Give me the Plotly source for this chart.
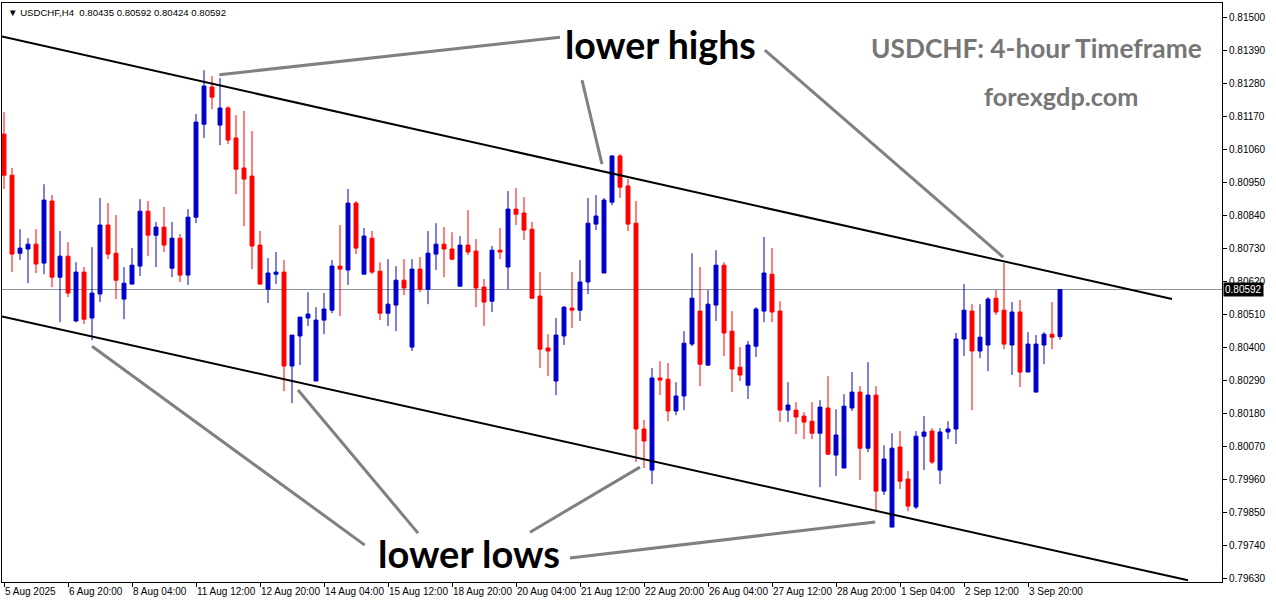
import plotly.graph_objects as go

# ---------------- data (USDCHF H4) ----------------
opens = [0.81110, 0.80973, 0.80713, 0.80727, 0.80743, 0.80680, 0.80887, 0.80633, 0.80703, 0.80487,
         0.80650, 0.80497, 0.80577, 0.80807, 0.80713, 0.80560, 0.80610, 0.80670, 0.80853, 0.80773,
         0.80800, 0.80663, 0.80763, 0.80640, 0.80833, 0.81143, 0.81267, 0.81140, 0.81197, 0.81097,
         0.80997, 0.80970, 0.80740, 0.80593, 0.80643, 0.80650, 0.80337, 0.80437, 0.80497, 0.80287,
         0.80490, 0.80523, 0.80670, 0.80657, 0.80880, 0.80643, 0.80763, 0.80653, 0.80513, 0.80540,
         0.80623, 0.80400, 0.80660, 0.80593, 0.80710, 0.80743, 0.80727, 0.80603, 0.80740, 0.80720,
         0.80600, 0.80553, 0.80723, 0.80667, 0.80860, 0.80847, 0.80793, 0.80570, 0.80397, 0.80287,
         0.80437, 0.80530, 0.80523, 0.80617, 0.80810, 0.80647, 0.80883, 0.81037, 0.80937, 0.80813,
         0.80127, 0.79990, 0.80297, 0.80293, 0.80187, 0.80237, 0.80410, 0.80520, 0.80340, 0.80540,
         0.80673, 0.80453, 0.80333, 0.80273, 0.80403, 0.80520, 0.80643, 0.80520, 0.80190, 0.80190,
         0.80170, 0.80153, 0.80113, 0.80197, 0.80040, 0.79997, 0.80197, 0.80250, 0.80063, 0.80240,
         0.79920, 0.79800, 0.80067, 0.79960, 0.79867, 0.80103, 0.80120, 0.79990, 0.80117, 0.80127,
         0.80427, 0.80520, 0.80387, 0.80407, 0.80563, 0.80523, 0.80407, 0.80517, 0.80317, 0.80250,
         0.80407, 0.80443, 0.80435]

highs = [0.81183, 0.80997, 0.80793, 0.80763, 0.80793, 0.80943, 0.80907, 0.80787, 0.80750, 0.80683,
         0.80667, 0.80733, 0.80897, 0.80880, 0.80840, 0.80667, 0.80730, 0.80893, 0.80887, 0.80817,
         0.80867, 0.80817, 0.80777, 0.80860, 0.81177, 0.81323, 0.81303, 0.81297, 0.81203, 0.81173,
         0.81187, 0.81120, 0.80787, 0.80697, 0.80717, 0.80690, 0.80440, 0.80500, 0.80583, 0.80533,
         0.80580, 0.80690, 0.80807, 0.80927, 0.80887, 0.80797, 0.80787, 0.80683, 0.80693, 0.80670,
         0.80693, 0.80693, 0.80700, 0.80787, 0.80813, 0.80800, 0.80783, 0.80770, 0.80857, 0.80760,
         0.80627, 0.80737, 0.80797, 0.80920, 0.80930, 0.80900, 0.80817, 0.80650, 0.80443, 0.80497,
         0.80537, 0.80650, 0.80690, 0.80897, 0.80907, 0.80897, 0.81040, 0.81043, 0.80960, 0.80887,
         0.80157, 0.80330, 0.80353, 0.80347, 0.80283, 0.80453, 0.80713, 0.80667, 0.80590, 0.80723,
         0.80683, 0.80520, 0.80400, 0.80420, 0.80533, 0.80767, 0.80730, 0.80553, 0.80283, 0.80217,
         0.80183, 0.80217, 0.80223, 0.80303, 0.80193, 0.80243, 0.80317, 0.80270, 0.80350, 0.80270,
         0.80073, 0.80113, 0.80120, 0.79987, 0.80120, 0.80170, 0.80130, 0.80130, 0.80153, 0.80447,
         0.80610, 0.80543, 0.80543, 0.80567, 0.80590, 0.80680, 0.80550, 0.80557, 0.80450, 0.80440,
         0.80450, 0.80550, 0.80592]

lows = [0.80927, 0.80650, 0.80690, 0.80613, 0.80647, 0.80643, 0.80600, 0.80483, 0.80567, 0.80483,
        0.80477, 0.80423, 0.80550, 0.80693, 0.80560, 0.80493, 0.80610, 0.80637, 0.80703, 0.80667,
        0.80717, 0.80633, 0.80617, 0.80607, 0.80813, 0.81097, 0.81193, 0.81073, 0.81077, 0.80910,
        0.80803, 0.80660, 0.80607, 0.80547, 0.80610, 0.80253, 0.80213, 0.80340, 0.80470, 0.80287,
        0.80443, 0.80513, 0.80503, 0.80607, 0.80710, 0.80643, 0.80643, 0.80490, 0.80470, 0.80453,
        0.80573, 0.80387, 0.80583, 0.80543, 0.80657, 0.80633, 0.80690, 0.80603, 0.80707, 0.80533,
        0.80470, 0.80517, 0.80693, 0.80593, 0.80807, 0.80757, 0.80560, 0.80330, 0.80303, 0.80240,
        0.80407, 0.80463, 0.80487, 0.80577, 0.80790, 0.80647, 0.80873, 0.80897, 0.80787, 0.80017,
        0.79997, 0.79943, 0.80240, 0.80153, 0.80173, 0.80190, 0.80403, 0.80270, 0.80337, 0.80487,
        0.80370, 0.80250, 0.80287, 0.80227, 0.80367, 0.80483, 0.80483, 0.80150, 0.80150, 0.80110,
        0.80093, 0.80093, 0.79933, 0.80040, 0.79970, 0.79997, 0.80187, 0.79957, 0.80050, 0.79850,
        0.79907, 0.79800, 0.79927, 0.79853, 0.79860, 0.79990, 0.80010, 0.79943, 0.80093, 0.80077,
        0.80370, 0.80190, 0.80363, 0.80320, 0.80507, 0.80393, 0.80307, 0.80267, 0.80317, 0.80250,
        0.80343, 0.80393, 0.80424]

closes = [0.80973, 0.80710, 0.80730, 0.80743, 0.80677, 0.80890, 0.80633, 0.80703, 0.80580, 0.80650,
          0.80493, 0.80580, 0.80807, 0.80710, 0.80623, 0.80613, 0.80673, 0.80853, 0.80773, 0.80800,
          0.80740, 0.80763, 0.80640, 0.80833, 0.81150, 0.81270, 0.81233, 0.81197, 0.81090, 0.80993,
          0.80960, 0.80737, 0.80610, 0.80647, 0.80650, 0.80337, 0.80440, 0.80500, 0.80510, 0.80490,
          0.80527, 0.80670, 0.80660, 0.80880, 0.80730, 0.80770, 0.80650, 0.80513, 0.80543, 0.80623,
          0.80597, 0.80660, 0.80593, 0.80713, 0.80743, 0.80727, 0.80693, 0.80740, 0.80717, 0.80597,
          0.80550, 0.80723, 0.80717, 0.80860, 0.80843, 0.80790, 0.80563, 0.80393, 0.80387, 0.80440,
          0.80533, 0.80523, 0.80617, 0.80813, 0.80837, 0.80890, 0.81037, 0.80933, 0.80810, 0.80127,
          0.80087, 0.80297, 0.80290, 0.80187, 0.80237, 0.80413, 0.80563, 0.80343, 0.80543, 0.80673,
          0.80447, 0.80327, 0.80307, 0.80407, 0.80527, 0.80647, 0.80517, 0.80190, 0.80207, 0.80167,
          0.80150, 0.80113, 0.80200, 0.80043, 0.80107, 0.80203, 0.80250, 0.80063, 0.80240, 0.79920,
          0.80027, 0.80063, 0.79953, 0.79870, 0.80103, 0.80117, 0.80017, 0.80117, 0.80127, 0.80427,
          0.80523, 0.80387, 0.80433, 0.80560, 0.80517, 0.80410, 0.80517, 0.80317, 0.80410, 0.80410,
          0.80443, 0.80433, 0.80592]

time_labels = ["5 Aug 2025", "6 Aug 20:00", "8 Aug 04:00", "11 Aug 12:00", "12 Aug 20:00",
               "14 Aug 04:00", "15 Aug 12:00", "18 Aug 20:00", "20 Aug 04:00", "21 Aug 12:00",
               "22 Aug 20:00", "26 Aug 04:00", "27 Aug 12:00", "28 Aug 20:00", "1 Sep 04:00",
               "2 Sep 12:00", "3 Sep 20:00"]
label_step = 8  # bars between time labels

price_ticks = [0.79630, 0.79740, 0.79850, 0.79960, 0.80070, 0.80180, 0.80290, 0.80400, 0.80510,
               0.80620, 0.80730, 0.80840, 0.80950, 0.81060, 0.81170, 0.81280, 0.81390, 0.81500]

symbol = "USDCHF,H4"

# channel lines (bar index, price)
upper_channel = [(-0.25, 0.81435), (146.0, 0.80560)]
lower_channel = [(-0.25, 0.80502), (148.0, 0.79623)]

# pointer lines (bar index, price)
pointers = [
    [(26.9, 0.81308), (69.5, 0.81433)],
    [(72.25, 0.81290), (74.75, 0.81010)],
    [(95.1, 0.81390), (124.9, 0.80700)],
    [(11.0, 0.80403), (45.1, 0.79740)],
    [(36.75, 0.80257), (51.75, 0.79780)],
    [(79.5, 0.80000), (65.75, 0.79783)],
    [(70.75, 0.79697), (108.9, 0.79817)],
]

# ---------------- figure ----------------
idx = list(range(len(opens)))
BLUE = "#0000CD"
RED = "#FF0000"

fig = go.Figure()
fig.add_trace(go.Candlestick(
    x=idx, open=opens, high=highs, low=lows, close=closes,
    increasing=dict(line=dict(color=BLUE, width=1), fillcolor=BLUE),
    decreasing=dict(line=dict(color=RED, width=1), fillcolor=RED),
    whiskerwidth=0, hoverinfo="skip", showlegend=False,
))

last = closes[-1]
shapes = []
# current price line
shapes.append(dict(type="line", xref="paper", yref="y", x0=0, x1=1, y0=last, y1=last,
                   line=dict(color="#8A96A0", width=1), layer="below"))
for (a, b) in (upper_channel, lower_channel):
    shapes.append(dict(type="line", xref="x", yref="y", x0=a[0], y0=a[1], x1=b[0], y1=b[1],
                       line=dict(color="black", width=2), layer="above"))
for (a, b) in pointers:
    shapes.append(dict(type="line", xref="x", yref="y", x0=a[0], y0=a[1], x1=b[0], y1=b[1],
                       line=dict(color="#808080", width=3), layer="above"))

BIG = "Lato, 'Open Sans', sans-serif"
def big_text(text, x, y, size, color):
    return dict(text=text, xref="paper", yref="paper", x=x, y=y, xanchor="center",
                yanchor="middle", showarrow=False,
                font=dict(family=BIG, size=size, color=color, weight="bold"))

annotations = [
    big_text("lower highs", 0.540, 0.929, 37.5, "black"),
    big_text("lower lows", 0.383, 0.050, 38, "black"),
    big_text("USDCHF: 4-hour Timeframe", 0.848, 0.922, 26.3, "#767676"),
    big_text("forexgdp.com", 0.868, 0.839, 25.3, "#767676"),
    dict(text="▼ %s  %.5f %.5f %.5f %.5f" % (symbol, opens[-1], highs[-1], lows[-1], closes[-1]),
         xref="paper", yref="paper", x=0.003, y=0.997, xanchor="left", yanchor="top",
         showarrow=False, font=dict(family="Liberation Sans", size=9.6, color="black")),
    dict(text="%.5f" % last, xref="paper", yref="y", x=1.0, y=last, xanchor="left",
         yanchor="middle", showarrow=False, bgcolor="black", borderpad=1, xshift=1,
         font=dict(family="Liberation Sans", size=10, color="white")),
]

fig.update_layout(
    width=1276, height=604,
    margin=dict(l=2, r=54, t=3, b=22, autoexpand=False),
    paper_bgcolor="white", plot_bgcolor="white",
    shapes=shapes, annotations=annotations,
    showlegend=False,
    xaxis=dict(
        range=[-0.25, 152.25], rangeslider=dict(visible=False), automargin=False,
        showgrid=False, zeroline=False, showline=True, linecolor="black", linewidth=1,
        mirror=True, ticks="outside", ticklen=4, tickcolor="black", tickangle=0,
        tickvals=[i * label_step for i in range(len(time_labels))], ticktext=time_labels,
        ticklabelposition="outside right",
        tickfont=dict(family="Liberation Sans", size=10, color="black"),
    ),
    yaxis=dict(
        side="right", range=[0.79617, 0.81547], automargin=False,
        showgrid=False, zeroline=False, showline=True, linecolor="black", linewidth=1,
        mirror=True, ticks="outside", ticklen=4, tickcolor="black",
        tickvals=price_ticks, ticktext=["%.5f" % v for v in price_ticks],
        tickfont=dict(family="Liberation Sans", size=10, color="black"),
    ),
)

fig.write_html(
    "out.html",
    config={"displayModeBar": False, "responsive": False},
    post_script="document.body.style.margin='0px';document.body.style.overflow='hidden';",
)
